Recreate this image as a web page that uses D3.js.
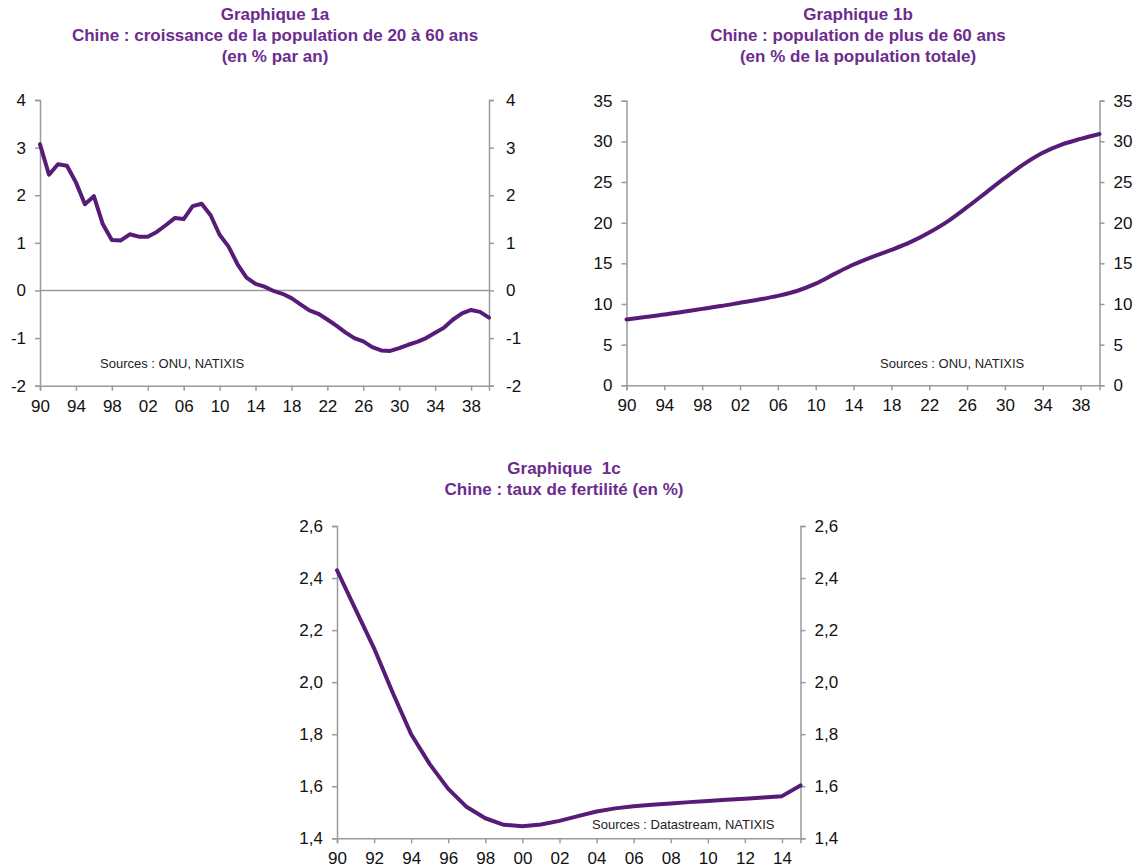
<!DOCTYPE html>
<html>
<head>
<meta charset="utf-8">
<script src="https://cdnjs.cloudflare.com/ajax/libs/d3/7.8.5/d3.min.js"></script>
<style>
  body { margin: 0; background: #fff; }
  svg { display: block; font-family: "Liberation Sans", Arial, sans-serif; }
</style>
</head>
<body>
<div id="graphic"></div>
<script>
// chart 1a : growth of the 20-60 population, % per year
const yearsA = d3.range(1990, 2041)
const growthA = [
  3.07, 2.43, 2.65, 2.62, 2.27, 1.81, 1.98, 1.39, 1.06, 1.05,
  1.18, 1.13, 1.13, 1.23, 1.37, 1.52, 1.50, 1.77, 1.82, 1.58,
  1.17, 0.92, 0.55, 0.27, 0.14, 0.08, -0.01, -0.07, -0.16, -0.29,
  -0.42, -0.49, -0.61, -0.74, -0.88, -1.00, -1.07, -1.19, -1.26, -1.27,
  -1.21, -1.14, -1.08, -1.00, -0.89, -0.78, -0.61, -0.48, -0.41, -0.45,
  -0.57
]
const ticksA = [-2, -1, 0, 1, 2, 3, 4]

// chart 1b : population over 60, % of total (read every 2 years)
const yearsB = d3.range(1990, 2041, 2)
const shareB = [
  8.1, 8.4, 8.7, 9.05, 9.4, 9.75, 10.15, 10.55, 11.0, 11.6,
  12.5, 13.7, 14.85, 15.8, 16.65, 17.6, 18.8, 20.2, 21.9, 23.7,
  25.5, 27.2, 28.6, 29.6, 30.3, 30.9
]
const ticksB = [0, 5, 10, 15, 20, 25, 30, 35]

// chart 1c : fertility rate
const yearsC = d3.range(1990, 2016)
const fertC = [
  2.43, 2.28, 2.13, 1.96, 1.80, 1.685, 1.59, 1.52, 1.477, 1.452,
  1.446, 1.453, 1.467, 1.485, 1.503, 1.515, 1.523, 1.529, 1.534, 1.539,
  1.543, 1.548, 1.552, 1.557, 1.562, 1.603
]
const ticksC = [1.4, 1.6, 1.8, 2.0, 2.2, 2.4, 2.6]

const width = 1147, height = 867
const lineColor = '#581c78'
const titleColor = '#6b2c8e'
const axisColor = '#9a9a9a'

const svg = d3.select('#graphic').append('svg')
  .attr('width', width)
  .attr('height', height)

svg.append('rect').attr('width', width).attr('height', height).attr('fill', '#fff')

const yy = d => (d % 100) < 10 ? '0' + (d % 100) : '' + (d % 100)
const intFmt = d => String(d)   // plain hyphen for negatives, like the original

function drawChart(cfg) {
  var x = d3.scaleLinear().domain(cfg.xDomain).range([cfg.left, cfg.right])
  var y = d3.scaleLinear().domain(cfg.yDomain).range([cfg.bottom, cfg.top])
  var g = svg.append('g')

  // titles
  g.selectAll('.title')
    .data(cfg.title)
    .enter().append('text')
    .attr('x', cfg.titleX)
    .attr('y', (d, i) => cfg.titleY + i * 21)
    .attr('text-anchor', 'middle')
    .attr('fill', titleColor)
    .attr('font-weight', 'bold')
    .attr('font-size', '17px')
    .style('white-space', 'pre')
    .text(d => d)

  g.append('g').attr('transform', 'translate(' + cfg.left + ',0)')
    .call(d3.axisLeft(y).tickValues(cfg.yTicks).tickFormat(cfg.yFormat).tickSizeOuter(0).tickSize(5).tickPadding(9))
  g.append('g').attr('transform', 'translate(' + cfg.right + ',0)')
    .call(d3.axisRight(y).tickValues(cfg.yTicks).tickFormat(cfg.yFormat).tickSizeOuter(0).tickSize(5).tickPadding(cfg.rightPad || 9))
  g.append('g').attr('transform', 'translate(0,' + cfg.bottom + ')')
    .call(d3.axisBottom(x).tickValues(cfg.xTicks).tickFormat(yy).tickSizeOuter(0).tickSize(5).tickPadding(9))

  g.selectAll('.domain, .tick line').attr('stroke', axisColor).attr('stroke-width', 1.5)
  g.selectAll('.tick text').attr('fill', '#111').attr('font-size', '17px')
    .attr('font-family', '"Liberation Sans", Arial, sans-serif')

  if (cfg.zeroLine) {
    g.append('line')
      .attr('x1', cfg.left).attr('x2', cfg.right)
      .attr('y1', y(0)).attr('y2', y(0))
      .attr('stroke', axisColor).attr('stroke-width', 1.5)
  }

  g.append('text')
    .attr('x', cfg.sourceX).attr('y', cfg.sourceY)
    .attr('font-size', '13px').attr('fill', '#222')
    .text(cfg.source)

  var line = d3.line()
    .x((d, i) => x(cfg.xs[i]))
    .y(d => y(d))
    .curve(cfg.curve || d3.curveLinear)

  g.append('path')
    .datum(cfg.ys)
    .attr('d', line)
    .attr('fill', 'none')
    .attr('stroke', lineColor)
    .attr('stroke-width', 4)
    .attr('stroke-linejoin', 'round')
    .attr('stroke-linecap', 'round')
}

drawChart({
  title: ['Graphique 1a', 'Chine : croissance de la population de 20 à 60 ans', '(en % par an)'],
  titleX: 275, titleY: 20,
  left: 40, right: 489, top: 100, bottom: 385.7,
  xDomain: [1990, 2040], yDomain: [-2, 4],
  xTicks: d3.range(1990, 2040, 4), yTicks: ticksA,
  yFormat: intFmt, rightPad: 12,
  xs: yearsA, ys: growthA,
  zeroLine: true,
  source: 'Sources : ONU, NATIXIS', sourceX: 100, sourceY: 368
})

drawChart({
  title: ['Graphique 1b', 'Chine : population de plus de 60 ans', '(en % de la population totale)'],
  titleX: 858, titleY: 20,
  left: 626.5, right: 1099.5, top: 100.7, bottom: 385.3,
  xDomain: [1990, 2040], yDomain: [0, 35],
  xTicks: d3.range(1990, 2040, 4), yTicks: ticksB,
  yFormat: intFmt,
  xs: yearsB, ys: shareB, curve: d3.curveMonotoneX,
  source: 'Sources : ONU, NATIXIS', sourceX: 880, sourceY: 368
})

drawChart({
  title: ['Graphique  1c', 'Chine : taux de fertilité (en %)'],
  titleX: 564, titleY: 474,
  left: 337, right: 800.5, top: 526, bottom: 838.3,
  xDomain: [1990, 2015], yDomain: [1.4, 2.6],
  xTicks: d3.range(1990, 2015, 2), yTicks: ticksC,
  yFormat: d => d3.format('.1f')(d).replace('.', ','),
  xs: yearsC, ys: fertC,
  source: 'Sources : Datastream, NATIXIS', sourceX: 592, sourceY: 829
})
</script>
</body>
</html>
